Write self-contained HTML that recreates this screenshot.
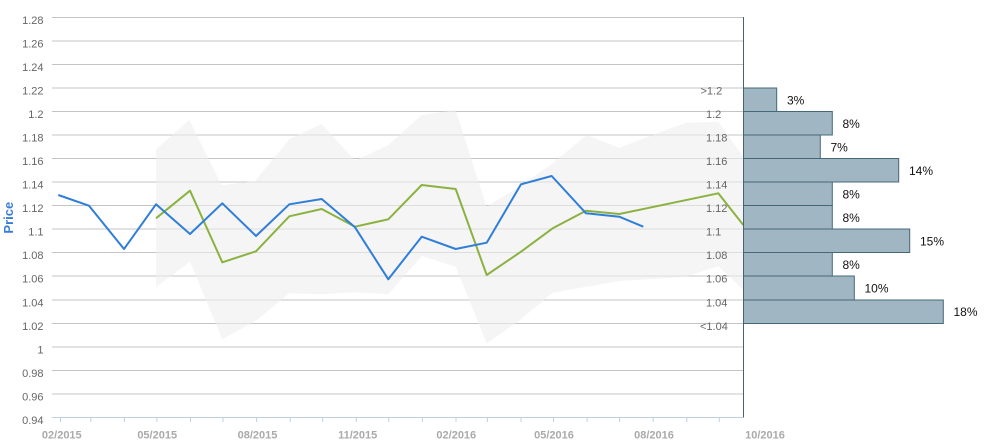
<!DOCTYPE html>
<html><head><meta charset="utf-8"><style>
html,body{margin:0;padding:0;background:#fff;}
svg{display:block;font-family:"Liberation Sans",Arial,sans-serif;}
</style></head><body>
<svg width="986" height="445" viewBox="0 0 986 445" xmlns="http://www.w3.org/2000/svg">
<rect width="986" height="445" fill="#fff"/>
<g stroke="#c4c4c4" stroke-width="1">
<line x1="52" y1="17.5" x2="743" y2="17.5"/>
<line x1="52" y1="41" x2="743" y2="41"/>
<line x1="52" y1="64.5" x2="743" y2="64.5"/>
<line x1="52" y1="88" x2="743" y2="88"/>
<line x1="52" y1="111.5" x2="743" y2="111.5"/>
<line x1="52" y1="135" x2="743" y2="135"/>
<line x1="52" y1="158.5" x2="743" y2="158.5"/>
<line x1="52" y1="182" x2="743" y2="182"/>
<line x1="52" y1="205.5" x2="743" y2="205.5"/>
<line x1="52" y1="229" x2="743" y2="229"/>
<line x1="52" y1="252.5" x2="743" y2="252.5"/>
<line x1="52" y1="276" x2="743" y2="276"/>
<line x1="52" y1="300" x2="743" y2="300"/>
<line x1="52" y1="323.5" x2="743" y2="323.5"/>
<line x1="52" y1="347" x2="743" y2="347"/>
<line x1="52" y1="370.5" x2="743" y2="370.5"/>
<line x1="52" y1="394" x2="743" y2="394"/>
</g>
<polygon fill="#eeeeee" fill-opacity="0.6" points="156,149.3 189.3,120 221.7,185.3 255,181 289.3,139.3 321.7,124 355,160.7 388.3,145 421.7,115 455.7,110 486.5,206.7 521.7,185 552.7,163.3 586.7,135 619.3,147.7 653,135 686,122.7 718.3,121.7 743.3,156.7 743.3,290 718.3,266 686,276.7 653,279 619.3,281 586.7,286.7 552.7,292.7 520,320 486.7,343.3 455.7,266.7 421.7,256 388.3,294.3 355,292.3 321.7,294.3 289.3,293.3 256,320.7 222.3,339.3 190,261.7 156,287.3"/>
<!-- x axis -->
<line x1="52" y1="417.5" x2="743" y2="417.5" stroke="#c0d0e0" stroke-width="1"/>
<g stroke="#c0d0e0" stroke-width="1">
<line x1="60.5" y1="417" x2="60.5" y2="422"/>
<line x1="90.8" y1="417" x2="90.8" y2="422"/>
<line x1="124.4" y1="417" x2="124.4" y2="422"/>
<line x1="156.9" y1="417" x2="156.9" y2="422"/>
<line x1="190.5" y1="417" x2="190.5" y2="422"/>
<line x1="223" y1="417" x2="223" y2="422"/>
<line x1="256.6" y1="417" x2="256.6" y2="422"/>
<line x1="290.2" y1="417" x2="290.2" y2="422"/>
<line x1="322.7" y1="417" x2="322.7" y2="422"/>
<line x1="356.3" y1="417" x2="356.3" y2="422"/>
<line x1="388.8" y1="417" x2="388.8" y2="422"/>
<line x1="422.4" y1="417" x2="422.4" y2="422"/>
<line x1="456" y1="417" x2="456" y2="422"/>
<line x1="487.4" y1="417" x2="487.4" y2="422"/>
<line x1="521" y1="417" x2="521" y2="422"/>
<line x1="553.5" y1="417" x2="553.5" y2="422"/>
<line x1="587.1" y1="417" x2="587.1" y2="422"/>
<line x1="619.6" y1="417" x2="619.6" y2="422"/>
<line x1="653.2" y1="417" x2="653.2" y2="422"/>
<line x1="686.8" y1="417" x2="686.8" y2="422"/>
<line x1="719.3" y1="417" x2="719.3" y2="422"/>
</g>
<g font-size="11" font-weight="bold" fill="#aaaaaa" text-anchor="middle">
<text x="61.8" y="438.5">02/2015</text>
<text x="157.2" y="438.5">05/2015</text>
<text x="257.5" y="438.5">08/2015</text>
<text x="357.7" y="438.5">11/2015</text>
<text x="456.3" y="438.5">02/2016</text>
<text x="554" y="438.5">05/2016</text>
<text x="654" y="438.5">08/2016</text>
<text x="765" y="438.5">10/2016</text>
</g>
<!-- y labels -->
<g font-size="11" fill="#666" text-anchor="end">
<text x="43.5" y="24.2">1.28</text>
<text x="43.5" y="47.7">1.26</text>
<text x="43.5" y="71.2">1.24</text>
<text x="43.5" y="94.7">1.22</text>
<text x="43.5" y="118.2">1.2</text>
<text x="43.5" y="141.7">1.18</text>
<text x="43.5" y="165.2">1.16</text>
<text x="43.5" y="188.7">1.14</text>
<text x="43.5" y="212.2">1.12</text>
<text x="43.5" y="235.7">1.1</text>
<text x="43.5" y="259.2">1.08</text>
<text x="43.5" y="282.7">1.06</text>
<text x="43.5" y="306.7">1.04</text>
<text x="43.5" y="330.2">1.02</text>
<text x="43.5" y="353.7">1</text>
<text x="43.5" y="377.2">0.98</text>
<text x="43.5" y="400.7">0.96</text>
<text x="43.5" y="424.2">0.94</text>
</g>
<text transform="translate(13,217.7) rotate(-90)" text-anchor="middle" font-size="13" font-weight="bold" fill="#3a7dd6">Price</text>
<!-- category labels -->
<g font-size="11" fill="#666">
<text x="700.5" y="94.5">&gt;1.2</text>
<text x="706" y="118">1.2</text>
<text x="706" y="141.5">1.18</text>
<text x="706" y="165">1.16</text>
<text x="706" y="188.5">1.14</text>
<text x="706" y="212">1.12</text>
<text x="706" y="235.5">1.1</text>
<text x="706" y="259">1.08</text>
<text x="706" y="282.5">1.06</text>
<text x="706" y="306.5">1.04</text>
<text x="700" y="330">&lt;1.04</text>
</g>
<!-- series -->
<polyline fill="none" stroke="#8bb240" stroke-width="2" stroke-linejoin="round" points="156,218.3 190,190.7 222.3,262.3 256,251.3 289.3,216.3 321.7,209 355,226.7 388.3,219.3 421.7,185 455.7,189 486.7,275 521,251.7 552.7,228.3 586,210.7 619.3,214 718.3,193.3 743.3,225"/>
<polyline fill="none" stroke="#2f7ed8" stroke-width="2" stroke-linejoin="round" points="58.3,195 89,205.7 124,249 156,204.3 190,234 222.3,203.3 256,236 289.3,204.3 321.7,199 355,227.3 388.3,279.3 421.7,236.7 455.7,249 486.7,242.7 521,184.3 551.7,176 586,213.3 619.3,216.7 643.3,226.7"/>
<!-- histogram bars -->
<g fill="#a1b6c3" stroke="#456879" stroke-width="1">
<rect x="743.5" y="88" width="33.2" height="23.5"/>
<rect x="743.5" y="111.5" width="88.8" height="23.5"/>
<rect x="743.5" y="135" width="76.8" height="23.5"/>
<rect x="743.5" y="158.5" width="155.2" height="23.5"/>
<rect x="743.5" y="182" width="88.8" height="23.5"/>
<rect x="743.5" y="205.5" width="88.8" height="23.5"/>
<rect x="743.5" y="229" width="166.2" height="23.5"/>
<rect x="743.5" y="252.5" width="88.8" height="23.5"/>
<rect x="743.5" y="276" width="110.8" height="24"/>
<rect x="743.5" y="300" width="199.8" height="23.5"/>
</g>
<line x1="743.5" y1="17" x2="743.5" y2="417.5" stroke="#456374" stroke-width="1"/>
<g font-size="12" fill="#111">
<text x="787" y="104.5">3%</text>
<text x="842.5" y="128">8%</text>
<text x="830.5" y="151.5">7%</text>
<text x="909" y="175">14%</text>
<text x="842.5" y="198.5">8%</text>
<text x="842.5" y="222">8%</text>
<text x="920" y="245.5">15%</text>
<text x="842.5" y="269">8%</text>
<text x="864.5" y="292.5">10%</text>
<text x="953.5" y="316">18%</text>
</g>
</svg>
</body></html>
